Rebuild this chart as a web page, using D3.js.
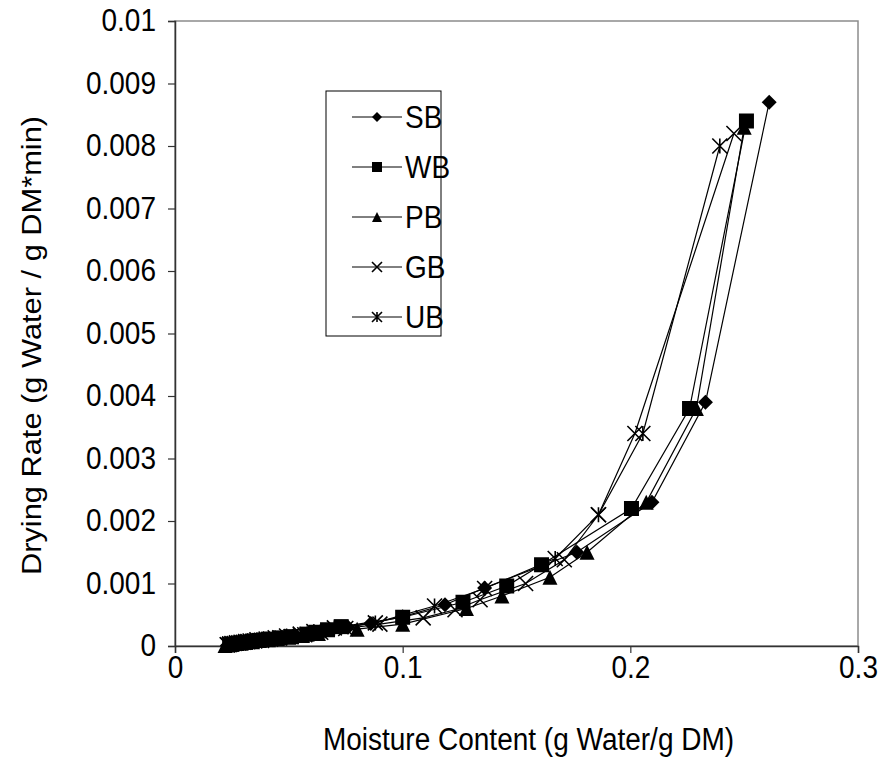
<!DOCTYPE html>
<html>
<head>
<meta charset="utf-8">
<script src="https://cdn.jsdelivr.net/npm/d3@7"></script>
<style>
  body { margin: 0; background: #fff; }
  text { font-family: Arial, "Liberation Sans", sans-serif; fill: #000; }
</style>
</head>
<body>
<svg></svg>
<script>
// moisture content (g water / g DM) and drying rate (g water / g DM*min)
var sbX = [0.261, 0.233, 0.2095, 0.1765, 0.136, 0.1186, 0.100, 0.086, 0.076, 0.066, 0.059, 0.053, 0.048, 0.044, 0.040, 0.037, 0.034, 0.032, 0.030, 0.028, 0.026, 0.025, 0.024, 0.023];
var sbY = [0.0087, 0.0039, 0.0023, 0.0015, 0.00093, 0.00066, 0.00047, 0.00036, 0.00030, 0.00024, 0.00019, 0.00016, 0.00014, 0.00012, 0.00010, 0.00009, 0.00008, 0.00007, 0.00006, 0.00005, 0.00004, 0.00003, 0.00002, 0.00001];

var wbX = [0.251, 0.226, 0.2005, 0.161, 0.1457, 0.1265, 0.100, 0.073, 0.067, 0.062, 0.058, 0.051, 0.046, 0.041, 0.037, 0.034, 0.031, 0.029, 0.027, 0.025, 0.024];
var wbY = [0.0084, 0.0038, 0.0022, 0.0013, 0.00096, 0.00070, 0.00046, 0.00031, 0.00026, 0.00022, 0.00019, 0.00015, 0.00013, 0.00011, 0.00009, 0.00008, 0.00006, 0.00005, 0.00004, 0.00003, 0.00002];

var pbX = [0.250, 0.229, 0.207, 0.181, 0.1647, 0.1436, 0.128, 0.100, 0.080, 0.063, 0.056, 0.050, 0.045, 0.041, 0.037, 0.034, 0.031, 0.029, 0.027, 0.025, 0.023, 0.022];
var pbY = [0.0083, 0.0038, 0.0023, 0.0015, 0.0011, 0.00080, 0.00060, 0.00035, 0.00027, 0.00020, 0.00017, 0.00014, 0.00012, 0.00010, 0.00009, 0.00007, 0.00006, 0.00005, 0.00004, 0.00003, 0.00002, 0.00001];

var gbX = [0.2455, 0.202, 0.186, 0.171, 0.154, 0.134, 0.123, 0.109, 0.090, 0.075, 0.064, 0.057, 0.051, 0.046, 0.042, 0.038, 0.035, 0.032, 0.030, 0.028, 0.026, 0.024, 0.023];
var gbY = [0.0082, 0.0034, 0.0021, 0.00138, 0.0010, 0.00074, 0.00058, 0.00045, 0.00035, 0.00028, 0.00022, 0.00018, 0.00015, 0.00013, 0.00011, 0.00009, 0.00008, 0.00007, 0.00006, 0.00005, 0.00004, 0.00003, 0.00002];

var ubX = [0.2393, 0.2055, 0.186, 0.167, 0.136, 0.114, 0.088, 0.070, 0.061, 0.055, 0.049, 0.044, 0.040, 0.036, 0.033, 0.031, 0.029, 0.027, 0.025, 0.024, 0.023];
var ubY = [0.0080, 0.0034, 0.0021, 0.0014, 0.00092, 0.00064, 0.00037, 0.00029, 0.00023, 0.00019, 0.00016, 0.00013, 0.00011, 0.00010, 0.00008, 0.00007, 0.00006, 0.00005, 0.00004, 0.00003, 0.00002];

var seriesNames = ["SB", "WB", "PB", "GB", "UB"];
var xTicks = [0, 0.1, 0.2, 0.3];
var yTicks = [0, 0.001, 0.002, 0.003, 0.004, 0.005, 0.006, 0.007, 0.008, 0.009, 0.01];

var series = [
  {name: "SB", xs: sbX, ys: sbY, shape: "diamond"},
  {name: "WB", xs: wbX, ys: wbY, shape: "square"},
  {name: "PB", xs: pbX, ys: pbY, shape: "triangle"},
  {name: "GB", xs: gbX, ys: gbY, shape: "cross"},
  {name: "UB", xs: ubX, ys: ubY, shape: "star"}
];

var width = 881;
var height = 780;

var svg = d3.select("svg")
        .attr("width", width)
        .attr("height", height);

var padding = {
  left: 175,
  right: 23,
  top: 21,
  bottom: 134
};

var xScale = d3.scaleLinear()
               .domain([0, 0.3])
               .range([padding.left, width - padding.right]);

var yScale = d3.scaleLinear()
               .domain([0, 0.01])
               .range([height - padding.bottom, padding.top]);

// plot frame (top and right are grey)
svg.append("rect")
   .attr("x", xScale(0))
   .attr("y", yScale(0.01))
   .attr("width", xScale(0.3) - xScale(0))
   .attr("height", yScale(0) - yScale(0.01))
   .attr("fill", "none")
   .attr("stroke", "#8c8c8c")
   .attr("stroke-width", 1.5);

var fontSize = 28;
var stretch = 1.1; // text in the original is a bit taller than wide

var xAxis = d3.axisBottom()
              .scale(xScale)
              .tickValues(xTicks)
              .tickSize(7)
              .tickPadding(2)
              .tickFormat(function(d){ return d === 0 ? "0" : d3.format(".1f")(d); });

var yAxis = d3.axisLeft()
              .scale(yScale)
              .tickValues(yTicks)
              .tickSize(7)
              .tickPadding(12)
              .tickFormat(function(d){ return d === 0 ? "0" : (d === 0.01 ? "0.01" : d3.format(".3f")(d)); });

var gx = svg.append("g")
   .attr("class","axis")
   .attr("transform", "translate(0," + yScale(0) + ")")
   .call(xAxis);

var gy = svg.append("g")
   .attr("class","axis")
   .attr("transform", "translate(" + xScale(0) + ",0)")
   .call(yAxis);

[gx, gy].forEach(function(g){
  g.select(".domain").attr("stroke", "#333").attr("stroke-width", 1.5);
  g.selectAll(".tick line").attr("stroke", "#333").attr("stroke-width", 1.2);
  g.selectAll(".tick text")
   .attr("font-family", "Arial, 'Liberation Sans', sans-serif")
   .attr("font-size", fontSize)
   .attr("fill", "#000")
   .attr("transform", "scale(1," + stretch + ")");
});

svg.append("text")
   .attr("transform", "translate(" + ((xScale(0) + xScale(0.3)) / 2 + 12) + ",750) scale(1," + stretch + ")")
   .attr("text-anchor", "middle")
   .attr("font-size", fontSize)
   .text("Moisture Content (g Water/g DM)");

svg.append("text")
   .attr("transform", "translate(41," + ((yScale(0) + yScale(0.01)) / 2 + 12) + ") scale(1," + stretch + ") rotate(-90)")
   .attr("text-anchor", "middle")
   .attr("font-size", fontSize)
   .text("Drying Rate (g Water / g DM*min)");

var drawMarker = function(g, shape, s){
  var h = s / 2;
  if (shape === "diamond") {
    g.append("path").attr("d", "M0," + (-h) + "L" + h + ",0L0," + h + "L" + (-h) + ",0Z").attr("fill", "#000");
  } else if (shape === "square") {
    g.append("rect").attr("x", -h).attr("y", -h).attr("width", s).attr("height", s).attr("fill", "#000");
  } else if (shape === "triangle") {
    g.append("path").attr("d", "M0," + (-h) + "L" + h + "," + h + "L" + (-h) + "," + h + "Z").attr("fill", "#000");
  } else if (shape === "cross") {
    g.append("path").attr("d", "M" + (-h) + "," + (-h) + "L" + h + "," + h + "M" + h + "," + (-h) + "L" + (-h) + "," + h)
     .attr("stroke", "#000").attr("stroke-width", 1.6);
  } else {
    g.append("path").attr("d", "M" + (-h) + "," + (-h) + "L" + h + "," + h + "M" + h + "," + (-h) + "L" + (-h) + "," + h + "M0," + (-h) + "L0," + h)
     .attr("stroke", "#000").attr("stroke-width", 1.6);
  }
};

var line = d3.line()
             .x(function(d){ return xScale(d[0]); })
             .y(function(d){ return yScale(d[1]); });

series.forEach(function(s){
  var pts = s.xs.map(function(x, i){ return [x, s.ys[i]]; });
  svg.append("path")
     .datum(pts)
     .attr("d", line)
     .attr("fill", "none")
     .attr("stroke", "#000")
     .attr("stroke-width", 1.2);
});

series.forEach(function(s){
  s.xs.forEach(function(x, i){
    var g = svg.append("g")
               .attr("transform", "translate(" + xScale(x) + "," + yScale(s.ys[i]) + ")");
    drawMarker(g, s.shape, 15);
  });
});

// legend
var legend = svg.append("g").attr("transform", "translate(326,91)");
legend.append("rect")
      .attr("width", 115)
      .attr("height", 245)
      .attr("fill", "#fff")
      .attr("stroke", "#000")
      .attr("stroke-width", 1);

series.forEach(function(s, i){
  var y = 26 + i * 50;
  legend.append("line")
        .attr("x1", 26).attr("x2", 76)
        .attr("y1", y).attr("y2", y)
        .attr("stroke", "#000")
        .attr("stroke-width", 1);
  var g = legend.append("g").attr("transform", "translate(51," + y + ")");
  drawMarker(g, s.shape, 10);
  legend.append("text")
        .attr("transform", "translate(79," + y + ") scale(1," + stretch + ")")
        .attr("dy", "0.35em")
        .attr("font-size", fontSize)
        .text(seriesNames[i]);
});
</script>
</body>
</html>
